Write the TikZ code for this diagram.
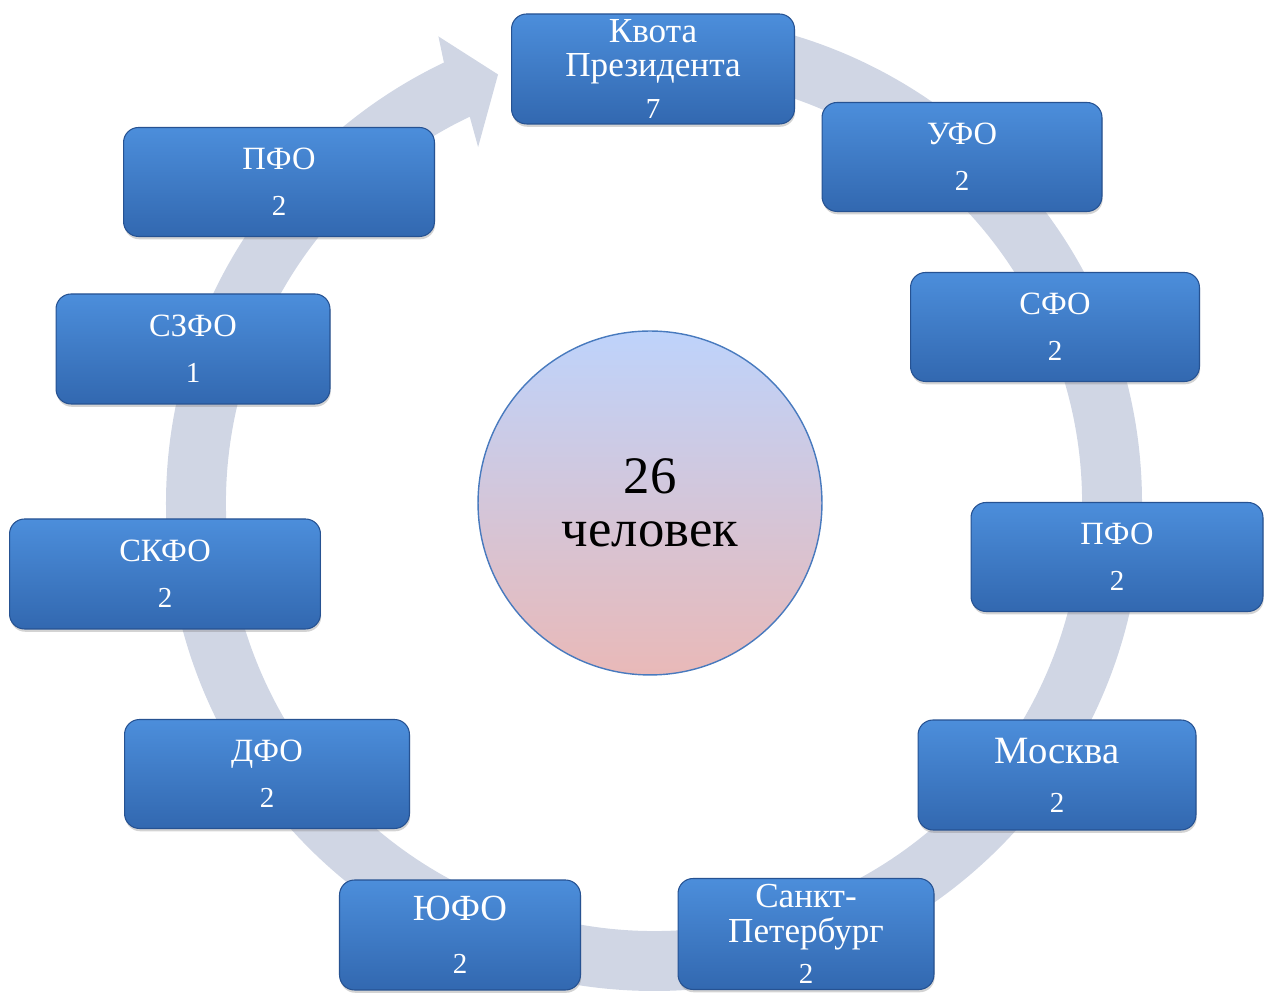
\documentclass[tikz,border=0pt]{standalone}
\usepackage{fontspec}
\setmainfont{Liberation Serif}
\usetikzlibrary{positioning, shadows}

\definecolor{boxtop}{RGB}{76,142,219}
\definecolor{boxbot}{RGB}{50,104,176}
\definecolor{boxedge}{RGB}{38,82,146}
\definecolor{bandgray}{RGB}{208,214,228}
\definecolor{ballup}{RGB}{190,211,251}
\definecolor{balldown}{RGB}{233,185,184}
\definecolor{balledge}{RGB}{72,122,190}

\newcommand{\regfont}{\fontsize{18.5}{20}\selectfont}
\newcommand{\bigfont}{\fontsize{22}{24}\selectfont}
\newcommand{\twofont}{\fontsize{20}{19.5}\selectfont}
\newcommand{\numfont}{\fontsize{16.5}{18}\selectfont}

\tikzset{
	regbox/.style={rectangle, rounded corners=0.3cm, draw=boxedge, line width=0.6pt,
		top color=boxtop, bottom color=boxbot, text=white, align=center,
		inner sep=0pt, font=\regfont,
		drop shadow={opacity=0.35, shadow xshift=0.4pt, shadow yshift=-1.6pt}},
	ringband/.style={fill=bandgray},
	ball/.style={circle, draw=balledge, line width=0.8pt, top color=ballup,
		bottom color=balldown, minimum size=6.88cm, align=center,
		font=\fontsize{30}{33}\selectfont}
}

\begin{document}
\begin{tikzpicture}[x=0.02cm, y=0.02cm]
	\useasboundingbox (0,0) rectangle (1265,993);
	% the ring arrow
	\fill[ringband, shift={(654,490)}] (88:488) arc[start angle=88, end angle=-244.5, radius=488]
		-- (-245.2:514) -- (-250:456) -- (-243.7:397) -- (-244.5:428)
		arc[start angle=-244.5, end angle=88, radius=428] -- cycle;
	% centre
	\node[ball] (total) at (650,490) {26\\[-3pt]человек};
	% regions
	\node[regbox, minimum width=5.66cm, minimum height=2.2cm, font=\twofont] (kvota) at (653,924) {Квота\\Президента\\[4pt]{\numfont 7}};
	\node[regbox, minimum width=5.6cm, minimum height=2.18cm] (ufo) at (962,836) {УФО\\[6pt]{\numfont 2}};
	\node[regbox, minimum width=5.78cm, minimum height=2.18cm] (sfo) at (1055,666) {СФО\\[6pt]{\numfont 2}};
	\node[regbox, minimum width=5.84cm, minimum height=2.18cm] (pfor) at (1117,436) {ПФО\\[6pt]{\numfont 2}};
	\node[regbox, minimum width=5.56cm, minimum height=2.2cm, font=\bigfont] (moskva) at (1057,218) {Москва\\[4pt]{\numfont 2}};
	\node[regbox, minimum width=5.12cm, minimum height=2.22cm, font=\twofont] (spb) at (806,59) {Санкт-\\Петербург\\[4pt]{\numfont 2}};
	\node[regbox, minimum width=4.82cm, minimum height=2.2cm, font=\fontsize{21}{23}\selectfont] (yufo) at (460,58) {ЮФО\\[7pt]{\numfont 2}};
	\node[regbox, minimum width=5.7cm, minimum height=2.18cm] (dfo) at (267,219) {ДФО\\[6pt]{\numfont 2}};
	\node[regbox, minimum width=6.22cm, minimum height=2.2cm] (skfo) at (165,419) {СКФО\\[6pt]{\numfont 2}};
	\node[regbox, minimum width=5.48cm, minimum height=2.2cm] (szfo) at (193,644) {СЗФО\\[6pt]{\numfont 1}};
	\node[regbox, minimum width=6.22cm, minimum height=2.18cm] (pfol) at (279,811) {ПФО\\[6pt]{\numfont 2}};
\end{tikzpicture}
\end{document}
